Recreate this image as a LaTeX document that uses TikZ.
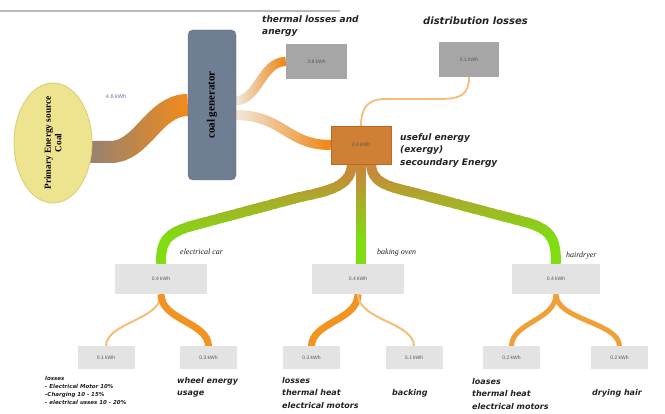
\documentclass[tikz,border=0pt]{standalone}
\usepackage{fontspec}
\usetikzlibrary{shapes.geometric,calc}
\newfontfamily\dvb{DejaVu Sans}[ItalicFont={DejaVu Sans Oblique},BoldItalicFont={DejaVu Sans Bold Oblique},BoldFont={DejaVu Sans Bold}]
\newfontfamily\lsans{Liberation Sans}
\newfontfamily\lserif{Liberation Serif}
\pgfdeclarelayer{bg}
\pgfsetlayers{bg,main}
\definecolor{ellfill}{HTML}{EEE38E}
\definecolor{ellline}{HTML}{D9CC70}
\definecolor{genfill}{HTML}{6F7E93}
\definecolor{genline}{HTML}{5C6A7E}
\definecolor{lossgray}{HTML}{A6A6A6}
\definecolor{usefill}{HTML}{D08035}
\definecolor{useline}{HTML}{B56A25}
\definecolor{lightbox}{HTML}{E3E3E3}
\definecolor{boxtext}{HTML}{555555}
\definecolor{flowbrown}{HTML}{9B836B}
\definecolor{flowor}{HTML}{EE8A1E}
\definecolor{flowlight}{HTML}{F1E4D4}
\definecolor{thinor}{HTML}{F5BE78}
\definecolor{greentop}{HTML}{C68A3A}
\definecolor{greenbot}{HTML}{7FDD12}
\definecolor{forkor}{HTML}{F29421}
\definecolor{forkmid}{HTML}{F0A03A}
\definecolor{kwhpurple}{HTML}{7A62A8}
\definecolor{labtext}{HTML}{222222}
% horizontal gradient along x: #1 x0, #2 x1, #3 start colour, #4 end colour, #5 width, #6 path
\newcommand\flowx[6]{%
  \begin{scope}\clip (-50,-50) rectangle (#1,500);\draw[line width=#5,color=#3]#6;\end{scope}
  \begin{scope}\clip (#2,-50) rectangle (800,500);\draw[line width=#5,color=#4]#6;\end{scope}
  \foreach \k in {0,...,29}{%
    \pgfmathsetmacro\xa{#1+(#2-#1)*\k/30}%
    \pgfmathsetmacro\xb{#1+(#2-#1)*(\k+1)/30+0.7}%
    \pgfmathtruncatemacro\pp{100*\k/29}%
    \begin{scope}
      \clip (\xa,-50) rectangle (\xb,500);
      \draw[line width=#5,color=#4!\pp!#3]#6;
    \end{scope}}}
% vertical gradient along y
\newcommand\flowy[6]{%
  \begin{scope}\clip (-50,-50) rectangle (800,#1);\draw[line width=#5,color=#3]#6;\end{scope}
  \begin{scope}\clip (-50,#2) rectangle (800,500);\draw[line width=#5,color=#4]#6;\end{scope}
  \foreach \k in {0,...,29}{%
    \pgfmathsetmacro\ya{#1+(#2-#1)*\k/30}%
    \pgfmathsetmacro\yb{#1+(#2-#1)*(\k+1)/30+0.7}%
    \pgfmathtruncatemacro\pp{100*\k/29}%
    \begin{scope}
      \clip (-50,\ya) rectangle (800,\yb);
      \draw[line width=#5,color=#4!\pp!#3]#6;
    \end{scope}}}
\tikzset{
  kbox/.style={rectangle, inner sep=0, font=\lsans\fontsize{5}{6}\selectfont, text=boxtext},
  subbox/.style={kbox, fill=lightbox, minimum width=57, minimum height=23},
  midbox/.style={kbox, fill=lightbox, minimum height=30},
  lab/.style={font=\dvb\bfseries\itshape\fontsize{9}{12.5}\selectfont, text=labtext, align=left, inner sep=0, anchor=north west},
  blab/.style={font=\dvb\bfseries\itshape\fontsize{8}{12.5}\selectfont, text=labtext, align=left, inner sep=0, anchor=north west},
  slab/.style={font=\dvb\bfseries\itshape\fontsize{5.5}{8}\selectfont, text=labtext, align=left, inner sep=0, anchor=north west},
  serlab/.style={font=\lserif\itshape\fontsize{8}{9}\selectfont, text=labtext, inner sep=0, anchor=west},
  forkthick/.style={line width=7, color=forkor},
  forkthin/.style={line width=2, color=thinor},
  forkmedium/.style={line width=5, color=forkmid}
}
\begin{document}
\begin{tikzpicture}[x=1pt,y=-1pt]
\useasboundingbox (0,0) rectangle (665,414);
\begin{pgfonlayer}{bg}
\fill[white] (0,0) rectangle (665,414);
\end{pgfonlayer}
\draw[gray!55, line width=1.5] (0,11) -- (340,11);

% nodes
\node[ellipse, draw=ellline, fill=ellfill, line width=0.8, minimum width=78, minimum height=120, inner sep=0] (src) at (53,143) {};
\node[rotate=90, font=\lserif\bfseries\fontsize{9.3}{10.5}\selectfont, align=center] (srct) at (src.center) {Primary Energy source\\Coal};
\node[rectangle, rounded corners=5, draw=genline, fill=genfill, minimum width=48, minimum height=150, inner sep=0] (gen) at (212,105) {};
\node[rotate=90, font=\lserif\bfseries\fontsize{11}{13}\selectfont] (gent) at (gen.center) {coal generator};
\node[kbox, fill=lossgray, minimum width=61, minimum height=35] (therm) at (316.5,61.5) {3.8 kWh};
\node[kbox, fill=lossgray, minimum width=60, minimum height=35] (dist) at (469,59.5) {0.1 kWh};
\node[kbox, fill=usefill, draw=useline, minimum width=60, minimum height=38] (useful) at (361,145) {2.4 kWh};
\node[midbox, minimum width=92] (car) at (161,279) {0.4 kWh};
\node[midbox, minimum width=92] (oven) at (358,279) {0.4 kWh};
\node[midbox, minimum width=88] (hair) at (556,279) {0.4 kWh};
\node[subbox] (carL) at (106,358) {0.1 kWh};
\node[subbox] (carR) at (208.5,358) {0.3 kWh};
\node[subbox] (ovenL) at (311.5,358) {0.3 kWh};
\node[subbox] (ovenR) at (414,358) {0.1 kWh};
\node[subbox] (hairL) at (511.5,358) {0.2 kWh};
\node[subbox] (hairR) at (619.5,358) {0.2 kWh};

% labels
\node[font=\lsans\fontsize{5.5}{6}\selectfont, text=kwhpurple, inner sep=0] (kwh) at (116,97) {4.6 kWh};
\node[lab] (thermlab) at (262,15) {thermal losses and\\anergy};
\node[lab, font=\dvb\bfseries\itshape\fontsize{10}{12}\selectfont] (distlab) at (423,17) {distribution losses};
\node[lab] (uselab) at (400,133) {useful energy\\(exergy)\\secoundary Energy};
\node[serlab] (carlab) at (180,252) {electrical car};
\node[serlab] (ovenlab) at (377,253) {baking oven};
\node[serlab] (hairlab) at (566,256) {hairdryer};
\node[slab] (carloss) at (45,376) {losses\\- Electrical Motor 10\%\\-Charging 10 - 15\%\\- electrical usses 10 - 20\%};
\node[blab] (wheellab) at (177,377) {wheel energy\\usage};
\node[blab] (ovenloss) at (282,377) {losses\\thermal heat\\electrical motors};
\node[blab, anchor=west] (backlab) at (392,393) {backing};
\node[blab] (hairloss) at (472,378) {loases\\thermal heat\\electrical motors};
\node[blab, anchor=west] (drylab) at (592,393) {drying hair};

% flows
\begin{pgfonlayer}{bg}
\flowx{95}{185}{flowbrown}{flowor}{22}{($(src.east)+(-4,9)$) -- ++(22,0) .. controls +(32,0) and +(-34,0) .. (gen.west)}
\flowx{238}{284}{flowlight}{flowor}{9}{($(gen.east)+(-2,-4)$) .. controls +(25,0) and +(-25,0) .. (therm.west)}
\flowx{238}{328}{flowlight}{flowor}{10}{($(gen.east)+(-2,10)$) .. controls +(50,0) and +(-45,0) .. (useful.west)}
\draw[line width=1.8, thinor] (dist.south) .. controls (469,95) and (460,99) .. (440,99) -- (385,99) .. controls (366,99) and (361,110) .. (useful.north);
\flowy{172}{240}{greentop}{greenbot}{10}{($(useful.south)+(-9,-2)$) .. controls +(0,22) and (335,190) .. (300,197) -- (195,225) .. controls (165,233) and (161,242) .. (car.north)}
\flowy{172}{240}{greentop}{greenbot}{10}{($(useful.south)+(0,-2)$) -- (useful.south |- oven.north)}
\flowy{172}{240}{greentop}{greenbot}{10}{($(useful.south)+(10,-2)$) .. controls +(0,20) and (385,186) .. (415,193) -- (525,222) .. controls (552,229) and (556,240) .. (hair.north)}
\draw[forkthin] (car.south) .. controls +(0,26) and +(0,-24) .. (carL.north);
\draw[forkthick] (car.south) .. controls +(0,26) and +(0,-24) .. (carR.north);
\draw[forkthick] (oven.south) .. controls +(0,26) and +(0,-24) .. (ovenL.north);
\draw[forkthin] (oven.south) .. controls +(0,26) and +(0,-24) .. (ovenR.north);
\draw[forkmedium] (hair.south) .. controls +(0,26) and +(0,-24) .. (hairL.north);
\draw[forkmedium] (hair.south) .. controls +(0,26) and +(0,-24) .. (hairR.north);
\end{pgfonlayer}
\end{tikzpicture}
\end{document}
